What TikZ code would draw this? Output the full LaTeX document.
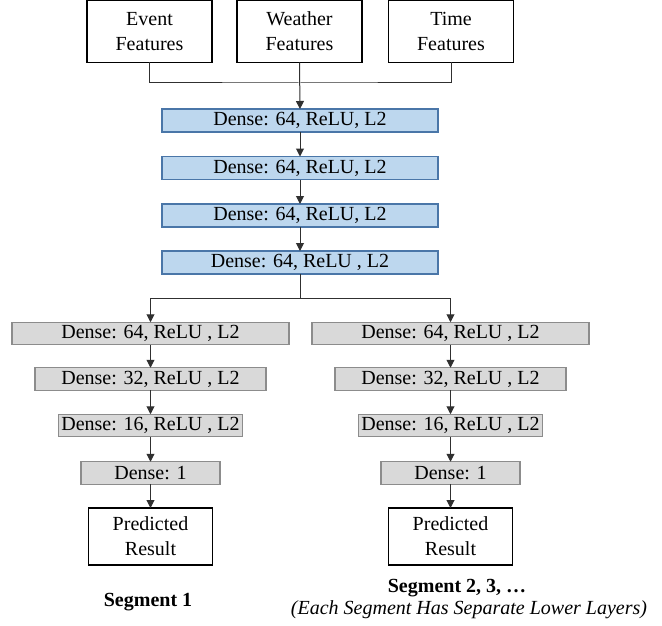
\documentclass[tikz,border=0pt]{standalone}
\usepackage{fontspec}
\setmainfont{Liberation Serif}
\usetikzlibrary{arrows.meta}
\definecolor{bluefill}{HTML}{BDD7EE}
\definecolor{blueline}{HTML}{4A76A8}
\definecolor{grayfill}{HTML}{D9D9D9}
\definecolor{grayline}{HTML}{8C8C8C}
\definecolor{conn}{HTML}{303030}
\begin{document}
\begin{tikzpicture}[x=1pt,y=-1pt,
  every node/.style={font=\fontsize{20}{25}\selectfont, inner sep=0pt, outer sep=0pt, align=center},
  inbox/.style={draw=black, line width=1.5pt, fill=white, minimum width=125pt, minimum height=62pt},
  bluebox/.style={draw=blueline, line width=1.4pt, fill=bluefill, minimum width=276pt, minimum height=23pt},
  graybox/.style={draw=grayline, line width=1.4pt, fill=grayfill, minimum height=22.5pt},
  outbox/.style={draw=black, line width=1.5pt, fill=white, minimum width=124pt, minimum height=57pt},
  link/.style={draw=conn, line width=1pt},
  arr/.style={link, -{Triangle[length=8pt,width=8pt]}}]
\useasboundingbox (0,0) rectangle (662,626);

% inputs
\node[inbox] (ev) at (149.5,31.5) {Event\\Features};
\node[inbox] (we) at (299.5,31.5) {Weather\\Features};
\node[inbox] (tm) at (451,31.5) {Time\\Features};

% shared layers
\node[bluebox] (b1) at (300,120.5) {Dense: 64, ReLU, L2};
\node[bluebox] (b2) at (300,168) {Dense: 64, ReLU, L2};
\node[bluebox] (b3) at (300,215.5) {Dense: 64, ReLU, L2};
\node[bluebox] (b4) at (300,262.5) {Dense: 64, ReLU , L2};

% left segment
\node[graybox, minimum width=277pt] (l1) at (150.5,333.5) {Dense: 64, ReLU , L2};
\node[graybox, minimum width=231pt] (l2) at (150.5,379) {Dense: 32, ReLU , L2};
\node[graybox, minimum width=184pt] (l3) at (150.5,425.5) {Dense: 16, ReLU , L2};
\node[graybox, minimum width=139pt] (l4) at (150.5,473) {Dense: 1};
\node[outbox] (lp) at (150.5,536.5) {Predicted\\Result};

% right segment
\node[graybox, minimum width=277pt] (r1) at (450.5,333.5) {Dense: 64, ReLU , L2};
\node[graybox, minimum width=231pt] (r2) at (450.5,379) {Dense: 32, ReLU , L2};
\node[graybox, minimum width=184pt] (r3) at (450.5,425.5) {Dense: 16, ReLU , L2};
\node[graybox, minimum width=139pt] (r4) at (450.5,473) {Dense: 1};
\node[outbox] (rp) at (450.5,536.5) {Predicted\\Result};

% labels
\node[font=\fontsize{20}{25}\selectfont\bfseries] (s1) at (148,602) {Segment 1};
\node[font=\fontsize{20}{25}\selectfont\bfseries] (s2) at (457,588) {Segment 2, 3, …};
\node[font=\fontsize{20}{25}\selectfont\itshape] (s2n) at (469,609.5) {(Each Segment Has Separate Lower Layers)};

% connectors
\coordinate (jn) at (299.5,83);
\draw[link] (ev.south) |- (jn) -| (tm.south);
\draw[arr] (we.south) -- (b1.north);
\draw[arr] (b1.south) -- (b2.north);
\draw[arr] (b2.south) -- (b3.north);
\draw[arr] (b3.south) -- (b4.north);
\coordinate (sp) at (300,298);
\draw[link] (b4.south) -- (sp);
\draw[arr] (sp) -| (l1.north);
\draw[arr] (sp) -| (r1.north);
\draw[arr] (l1.south) -- (l2.north);
\draw[arr] (l2.south) -- (l3.north);
\draw[arr] (l3.south) -- (l4.north);
\draw[arr] (l4.south) -- (lp.north);
\draw[arr] (r1.south) -- (r2.north);
\draw[arr] (r2.south) -- (r3.north);
\draw[arr] (r3.south) -- (r4.north);
\draw[arr] (r4.south) -- (rp.north);
\end{tikzpicture}
\end{document}
